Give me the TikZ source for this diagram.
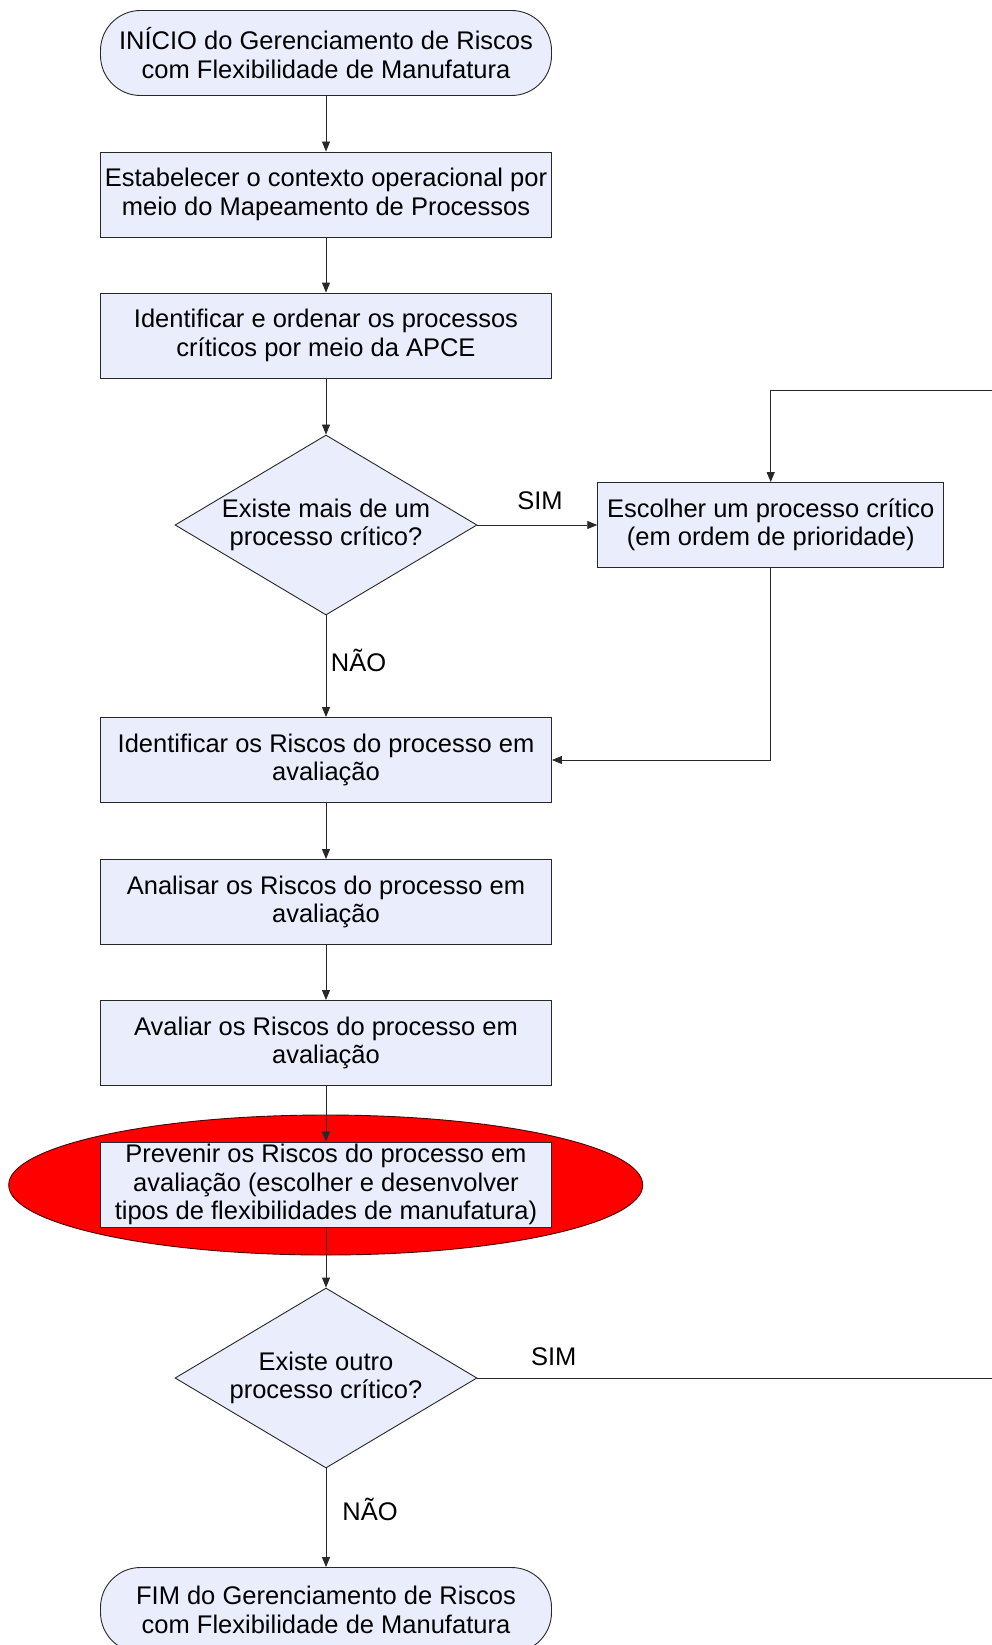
\documentclass[tikz,border=0pt]{standalone}
\usepackage{fontspec}
\setmainfont{Liberation Sans}
\usetikzlibrary{shapes.geometric,arrows.meta}
\definecolor{boxfill}{RGB}{234,237,252}
\definecolor{linegray}{RGB}{40,40,40}
\begin{document}
\begin{tikzpicture}[x=1pt,y=-1pt,
  txt/.style={font=\fontsize{25.5}{28.3}\selectfont, align=center, text=black},
  base/.style={draw=linegray, line width=0.9pt, fill=boxfill},
  procbox/.style={base, txt, rectangle, minimum width=451pt, minimum height=85pt, inner sep=0pt},
  termbox/.style={base, txt, rectangle, rounded corners=40pt, minimum width=451pt, minimum height=85pt, inner sep=0pt},
  decbox/.style={base, diamond, minimum width=302pt, minimum height=180pt, inner sep=0pt, aspect=1.68},
  lbl/.style={txt},
  conn/.style={draw=linegray, line width=0.9pt},
  arr/.style={conn, -{Triangle[length=10pt,width=8pt]}}
]
\useasboundingbox (0,0) rectangle (992,1645);

% highlighted step
\node[draw=black!70!red, line width=0.9pt, fill=red, ellipse, minimum width=634pt, minimum height=140pt, inner sep=0pt] (hl) at (325.7,1185) {};

% nodes
\node[termbox] (start) at (326,53) {INÍCIO do Gerenciamento de Riscos\\com Flexibilidade de Manufatura};
\node[procbox] (ctx) at (326,194.5) {Estabelecer o contexto operacional por\\meio do Mapeamento de Processos};
\node[procbox] (crit) at (326,335.5) {Identificar e ordenar os processos\\críticos por meio da APCE};
\node[decbox] (d1) at (326,525) {};
\node[txt] at (d1.center) {Existe mais de um\\processo crítico?};
\node[base, txt, rectangle, minimum width=346pt, minimum height=85pt, inner sep=0pt] (esc) at (770.7,525) {Escolher um processo crítico\\(em ordem de prioridade)};
\node[procbox] (ident) at (326,760) {Identificar os Riscos do processo em\\avaliação};
\node[procbox] (anal) at (326,902) {Analisar os Riscos do processo em\\avaliação};
\node[procbox] (aval) at (326,1043) {Avaliar os Riscos do processo em\\avaliação};
\node[procbox] (prev) at (326,1184.5) {Prevenir os Riscos do processo em\\avaliação (escolher e desenvolver\\tipos de flexibilidades de manufatura)};
\node[decbox] (d2) at (326,1378) {};
\node[txt] at (d2.center) {Existe outro\\processo crítico?};
\node[termbox] (fim) at (326,1610) {FIM do Gerenciamento de Riscos\\com Flexibilidade de Manufatura};

% loop ends at the page edge
\coordinate (loopout) at (992,1378);
\coordinate (loopin) at (992,390);

% connectors
\draw[arr] (start) -- (ctx);
\draw[arr] (ctx) -- (crit);
\draw[arr] (crit) -- (d1);
\draw[arr] (d1.east) -- (esc.west);
\draw[arr] (d1.south) -- (ident.north);
\draw[arr] (esc.south) |- (ident.east);
\draw[arr] (ident) -- (anal);
\draw[arr] (anal) -- (aval);
\draw[arr] (aval.south) -- (prev.north);
\draw[arr] (prev.south) -- (d2.north);
\draw[conn] (d2.east) -- (loopout);
\draw[arr] (loopin) -| (esc.north);
\draw[arr] (d2.south) -- (fim.north);

% branch labels
\node[lbl] (sim1) at (540,501) {SIM};
\node[lbl] (nao1) at (358.6,660.6) {NÃO};
\node[lbl] (sim2) at (553.7,1357) {SIM};
\node[lbl] (nao2) at (370,1509) {NÃO};
\end{tikzpicture}
\end{document}
